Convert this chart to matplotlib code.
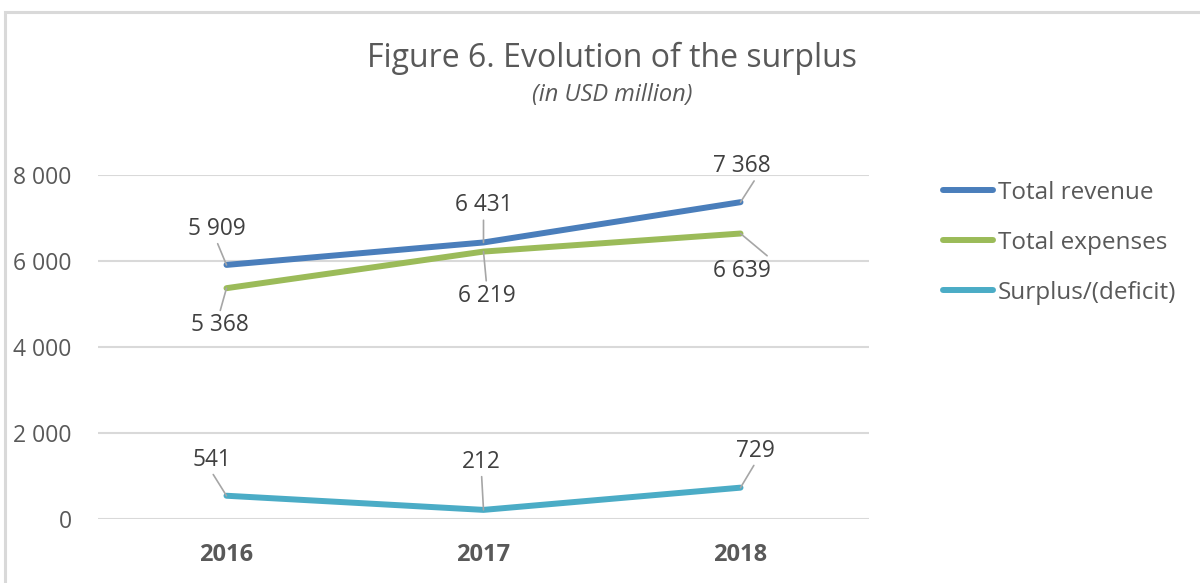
import matplotlib
matplotlib.use("Agg")
import matplotlib.pyplot as plt
from matplotlib.patches import Rectangle
import numpy as np

plt.rcParams['font.family'] = ['Open Sans', 'DejaVu Sans']

# data
years = ['2016', '2017', '2018']
revenue = [5909, 6431, 7368]
expenses = [5368, 6219, 6639]
surplus = [541, 212, 729]
series_names = ['Total revenue', 'Total expenses', 'Surplus/(deficit)']
colors_ = ['#4a7ebb', '#9bbb59', '#4bacc6']

# label offsets in pixels (dx, dy) and where the leader line leaves the text
offsets = [
    [(-10, 36), (0, 37), (1, 36)],
    [(-7, -37), (3, -44), (1, -37)],
    [(-15, 36), (-2, 48), (15, 37)],
]
relpos = [
    [(0.5, 0), (0.5, 0), (0.75, 0)],
    [(0.5, 1), (0.5, 1), (1, 1)],
    [(0.5, 0), (0.5, 0), (0.5, 0)],
]


def fmt(v):
    return '{:,}'.format(v).replace(',', ' ')


fig = plt.figure(figsize=(12, 5.83), dpi=100)
ax = fig.add_axes([98 / 1200, 1 - 519 / 583, (869 - 98) / 1200, 344 / 583])

x = np.arange(len(years))
for i, vals in enumerate([revenue, expenses, surplus]):
    ax.plot(x, vals, color=colors_[i], lw=4.3, solid_capstyle='round',
            solid_joinstyle='round', label=series_names[i], zorder=3)
    for j, v in enumerate(vals):
        ax.annotate(fmt(v), xy=(x[j], v), xytext=offsets[i][j],
                    textcoords='offset pixels', ha='center', va='center',
                    fontsize=16.3, color='#404040',
                    arrowprops=dict(arrowstyle='-', color='#a6a6a6', lw=1.2,
                                    shrinkA=0, shrinkB=0,
                                    relpos=relpos[i][j]))

ax.set_xlim(-0.5, 2.5)
ax.set_ylim(0, 8000)
ax.set_yticks([0, 2000, 4000, 6000, 8000])
ax.set_yticklabels([fmt(t) for t in [0, 2000, 4000, 6000, 8000]])
ax.set_xticks(x)
ax.set_xticklabels(years, fontweight='bold')
ax.tick_params(axis='y', length=0, pad=19, labelsize=16.5, labelcolor='#595959')
ax.tick_params(axis='x', length=0, pad=17, labelsize=17, labelcolor='#595959')
ax.grid(axis='y', color='#d9d9d9', lw=1.5)
ax.set_axisbelow(True)
for s in ax.spines.values():
    s.set_visible(False)

fig.text(612 / 1200, 1 - 58 / 583, 'Figure 6. Evolution of the surplus',
         ha='center', va='center', fontsize=23, color='#595959')
fig.text(612 / 1200, 1 - 95 / 583, '(in USD million)', ha='center',
         va='center', fontsize=17, style='italic', color='#595959')

ax.legend(loc='upper left', bbox_to_anchor=(943 / 1200, 1 - 181 / 583),
          bbox_transform=fig.transFigure, frameon=False, fontsize=17.5,
          handlelength=2.05, handletextpad=0.22, labelspacing=1.06,
          borderpad=0, borderaxespad=0, labelcolor='#595959')

fig.add_artist(Rectangle((5 / 1200, -0.1), 1.2, 0.1 + (583 - 12) / 583,
                         transform=fig.transFigure, fill=False,
                         ec='#d9d9d9', lw=2.2))

fig.savefig('out.png', dpi=100)
